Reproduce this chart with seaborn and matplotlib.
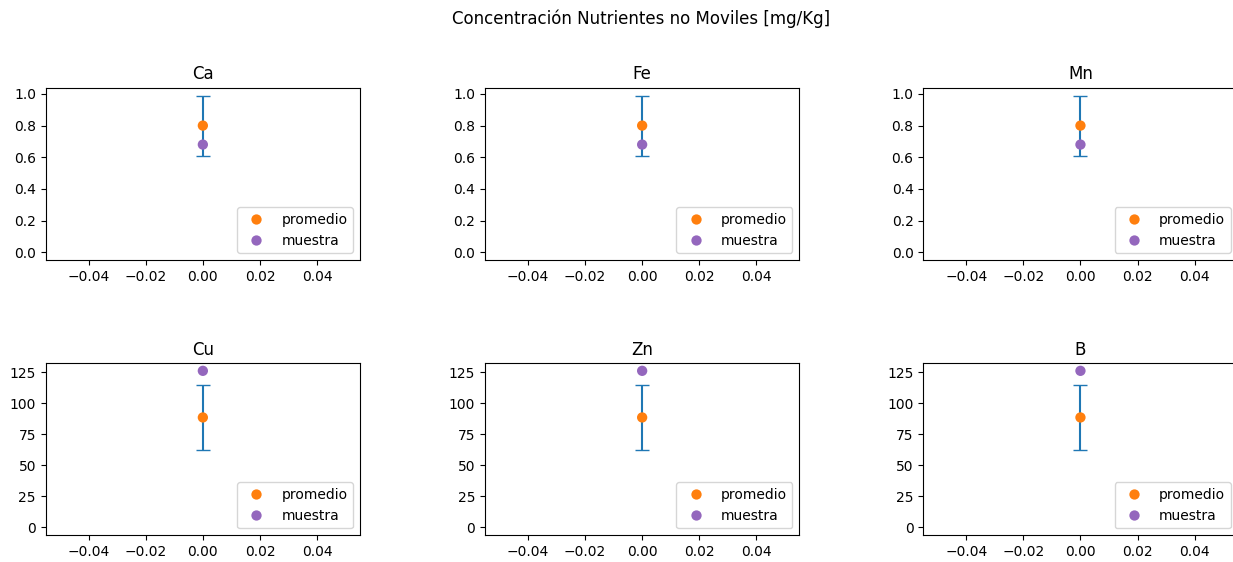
import matplotlib
matplotlib.use("Agg")
import matplotlib.pyplot as plt
import seaborn as sns
import pandas as pd

nutrients = ["Ca", "Fe", "Mn", "Cu", "Zn", "B"]
promedio = [0.8, 0.8, 0.8, 88.5, 88.5, 88.5]
error = [0.19, 0.19, 0.19, 26.5, 26.5, 26.5]
muestra = [0.68, 0.68, 0.68, 126.0, 126.0, 126.0]
title = "Concentración Nutrientes no Moviles [mg/Kg]"

plt.rcParams['font.family'] = ['DejaVu Sans']
fig = plt.figure(figsize=(12.33, 5.62), dpi=100)
W, H = 1233, 562
lefts = [45.7, 485.0, 923.3]
tops = [87.7, 363.0]
aw, ah = 314.3, 172.3

for i, name in enumerate(nutrients):
    r, c = divmod(i, 3)
    ax = fig.add_axes([lefts[c] / W, 1 - (tops[r] + ah) / H, aw / W, ah / H])
    ax.errorbar([0], [promedio[i]], yerr=[error[i]], fmt='none', ecolor='C0', capsize=5)
    df = pd.DataFrame({"x": [0, 0], "y": [promedio[i], muestra[i]],
                       "serie": ["promedio", "muestra"]})
    sns.scatterplot(data=df, x="x", y="y", hue="serie",
                    palette={"promedio": "C1", "muestra": "C4"},
                    s=55, linewidth=0, ax=ax, zorder=3)
    ax.set_xlim(-0.055, 0.055)
    top = max(promedio[i] + error[i], muestra[i])
    ax.set_ylim(-0.05 * top, top * 1.05)
    ax.set_xlabel("")
    ax.set_ylabel("")
    ax.set_title(name)
    ax.legend(loc="lower right", title=None)

fig.suptitle(title, x=641 / W, y=1 - 19 / H, va="center")
fig.savefig("out.png", dpi=100)
